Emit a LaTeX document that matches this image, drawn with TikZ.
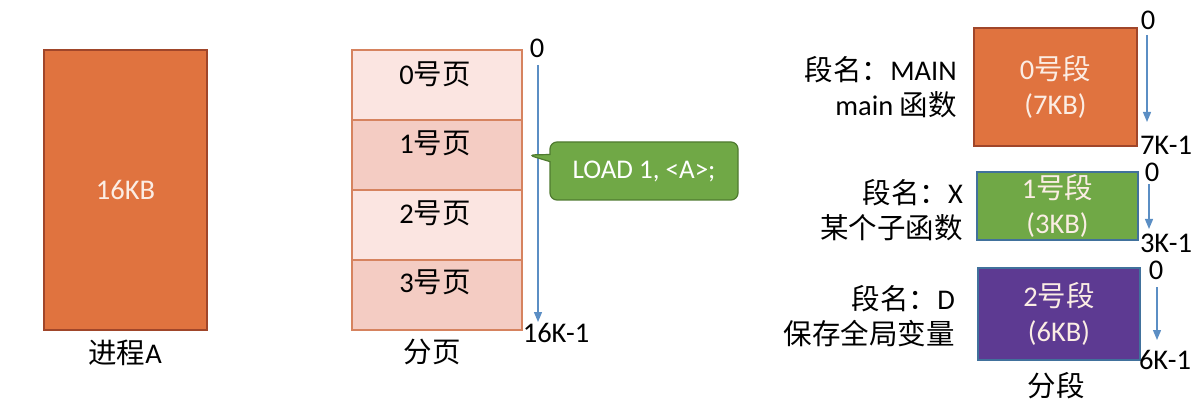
\documentclass[tikz,border=0pt]{standalone}
\usepackage{fontspec}
\setmainfont{Carlito}
\newfontfamily\cjk{Noto Sans CJK SC}
\newcommand\zhs[1]{{\cjk #1}}
\usetikzlibrary{shapes.callouts,arrows.meta}
\definecolor{orangeA}{HTML}{E0733F}
\definecolor{orangeB}{HTML}{A0462A}
\definecolor{pageL}{HTML}{FBE5E1}
\definecolor{pageD}{HTML}{F4CCC3}
\definecolor{pageB}{HTML}{D6835F}
\definecolor{greenS}{HTML}{70A846}
\definecolor{greenB}{HTML}{4F7A30}
\definecolor{purpS}{HTML}{5D3A92}
\definecolor{blueB}{HTML}{41719C}
\definecolor{arrowC}{HTML}{5B8EC4}
\definecolor{txtW}{HTML}{FBEDE4}
\begin{document}
\begin{tikzpicture}[x=1pt,y=-1pt,
  every node/.style={font=\fontsize{28.5}{35}\selectfont, inner sep=0pt},
  box/.style={draw, line width=1.2pt, inner sep=0pt},
  pagerow/.style={box, draw=pageB, minimum width=170pt, minimum height=70pt},
  addr/.style={draw=arrowC, line width=1.3pt, -{Triangle[width=8pt,length=10pt]}},
  wtext/.style={text=txtW, align=center}]
\useasboundingbox (0,0) rectangle (1199,406);

% process A
\node[box, fill=orangeA, draw=orangeB, minimum width=163pt, minimum height=280pt, wtext] (procA) at (125.5,190) {16KB};
\node (procAlbl) at (125,353) {\zhs{进程}A};

% paging
\node[pagerow, fill=pageL] (p0) at (437,85) {};
\node[pagerow, fill=pageD] (p1) at (437,155) {};
\node[pagerow, fill=pageL] (p2) at (437,225) {};
\node[pagerow, fill=pageD] (p3) at (437,295) {};
\node (p0t) at (435,74) {0\zhs{号页}};
\node (p1t) at (435,143) {1\zhs{号页}};
\node (p2t) at (435,213) {2\zhs{号页}};
\node (p3t) at (435,282) {3\zhs{号页}};
\node (plbl) at (432,352) {\zhs{分页}};
\node (pz) at (537,48) {0};
\node (pe) at (556,333) {16K-1};
\coordinate (pa0) at (538,65);
\coordinate (pa1) at (538,322);
\draw[addr] (pa0) -- (pa1);

% callout
\coordinate (tip) at (528,155);
\node[rectangle callout, callout absolute pointer={(tip)}, rounded corners=7pt,
  fill=greenS, draw=greenB, line width=1.2pt, minimum width=188pt, minimum height=58pt,
  text=white, font=\fontsize{27}{33}\selectfont] (load) at (644,171) {LOAD 1, <A>;};

% segments
\node[box, fill=orangeA, draw=orangeB, minimum width=163pt, minimum height=118pt, wtext] (s0) at (1055.5,87) {0\zhs{号段}\\(7KB)};
\node[box, fill=greenS, draw=blueB, minimum width=161pt, minimum height=68pt, wtext] (s1) at (1057.5,206) {1\zhs{号段}\\(3KB)};
\node[box, fill=purpS, draw=blueB, minimum width=162pt, minimum height=92pt, wtext] (s2) at (1059,314) {2\zhs{号段}\\(6KB)};

\node[anchor=east, align=right] (s0n) at (957,87) {\zhs{段名：}MAIN\\main \zhs{函数}};
\node[anchor=east, align=right] (s1n) at (963,210) {\zhs{段名：}X\\\zhs{某个子函数}};
\node[anchor=east, align=right] (s2n) at (955,316) {\zhs{段名：}D\\\zhs{保存全局变量}};

\node (s0z) at (1148,20) {0};
\node (s0e) at (1166,145) {7K-1};
\coordinate (s0a) at (1147,35);
\coordinate (s0b) at (1147,122);
\draw[addr] (s0a) -- (s0b);

\node (s1z) at (1152,172) {0};
\node (s1e) at (1166,243) {3K-1};
\coordinate (s1a) at (1149,184);
\coordinate (s1b) at (1149,229);
\draw[addr] (s1a) -- (s1b);

\node (s2z) at (1156,270) {0};
\node (s2e) at (1165,360) {6K-1};
\coordinate (s2a) at (1157,287);
\coordinate (s2b) at (1157,340);
\draw[addr] (s2a) -- (s2b);

\node (slbl) at (1056,386) {\zhs{分段}};
\end{tikzpicture}
\end{document}
